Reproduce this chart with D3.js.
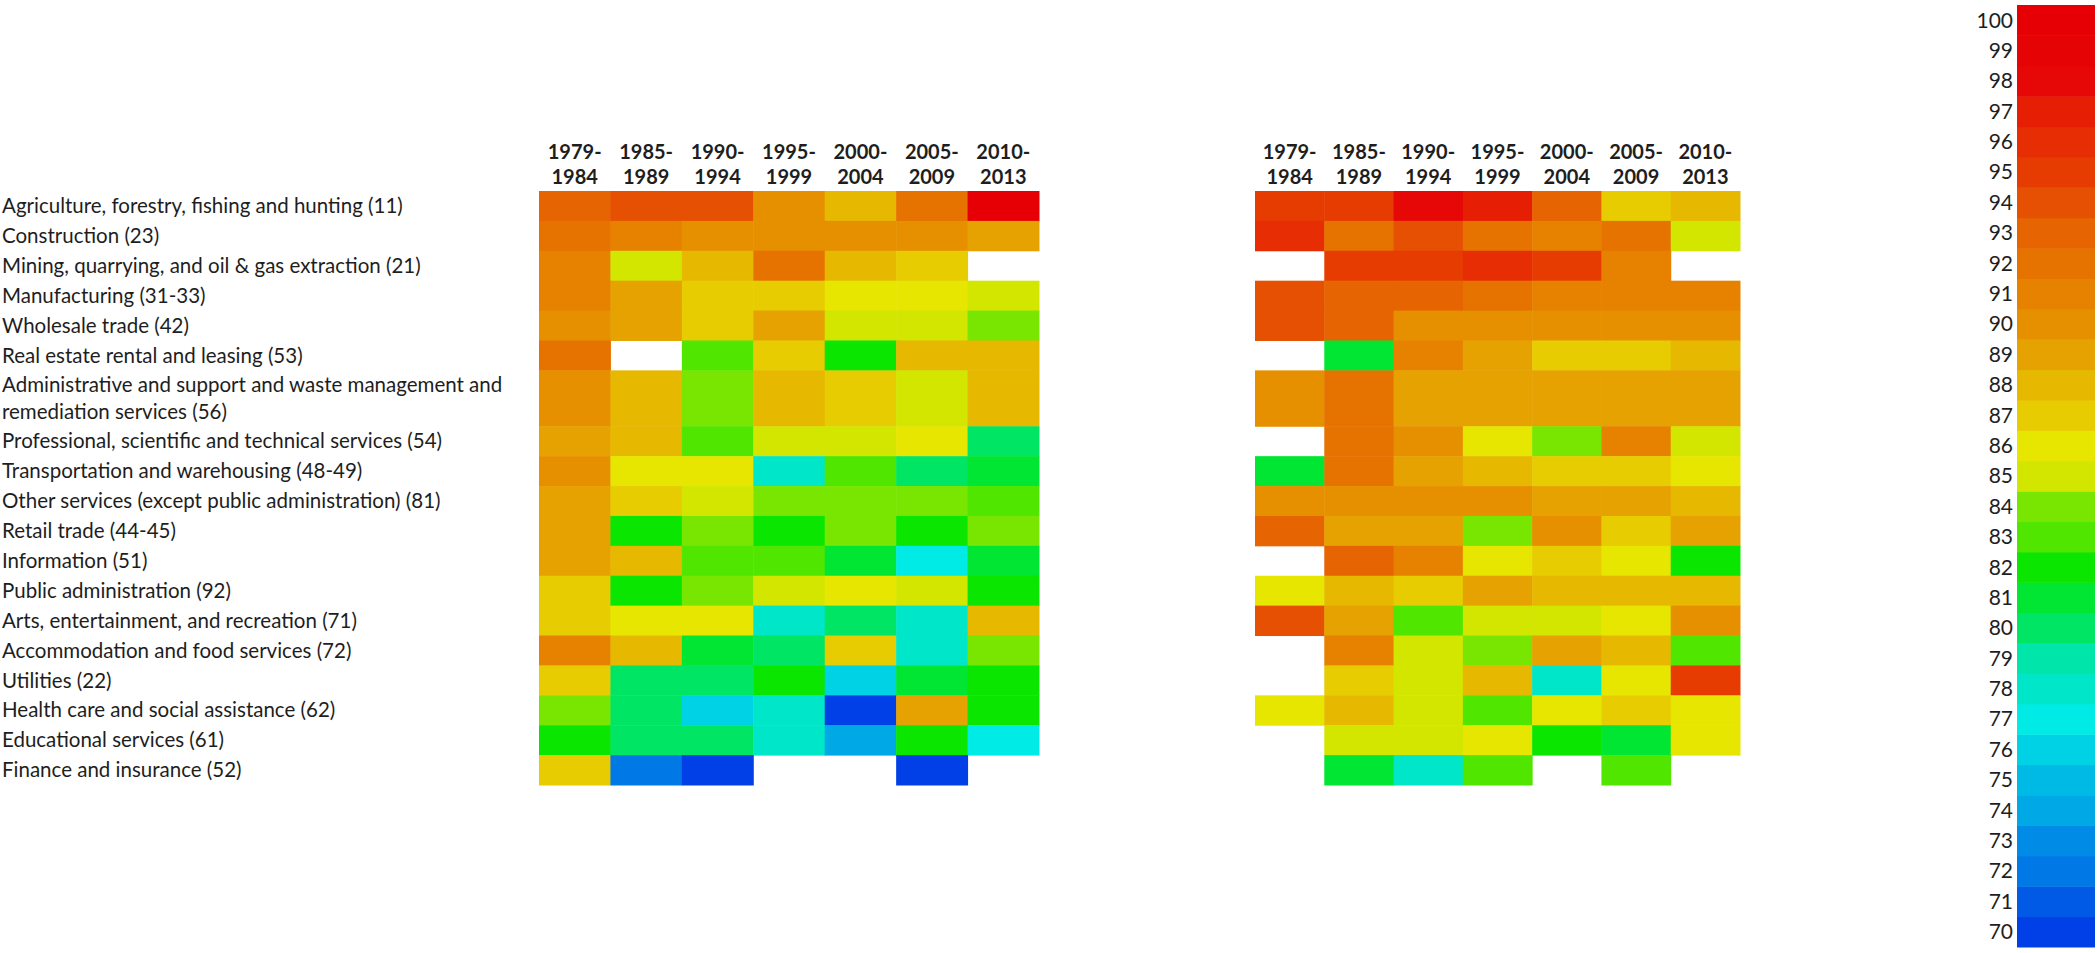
<!DOCTYPE html>
<html>
<head>
<meta charset="utf-8">
<script src="https://cdn.jsdelivr.net/npm/d3@7/dist/d3.min.js"></script>
<style>
  html, body { margin: 0; padding: 0; background: #fff; }
  svg { display: block; }
  text { font-family: Lato, "Open Sans", sans-serif; fill: #1e1e1e; }
</style>
</head>
<body>
<svg id="chart" width="2100" height="953"></svg>
<script>
// ---------------- DATA ----------------
const periods = ["1979-1984", "1985-1989", "1990-1994", "1995-1999", "2000-2004", "2005-2009", "2010-2013"];

const industries = [
  ["Agriculture, forestry, fishing and hunting (11)"],
  ["Construction (23)"],
  ["Mining, quarrying, and oil & gas extraction (21)"],
  ["Manufacturing (31-33)"],
  ["Wholesale trade (42)"],
  ["Real estate rental and leasing (53)"],
  ["Administrative and support and waste management and", "remediation services (56)"],
  ["Professional, scientific and technical services (54)"],
  ["Transportation and warehousing (48-49)"],
  ["Other services (except public administration) (81)"],
  ["Retail trade (44-45)"],
  ["Information (51)"],
  ["Public administration (92)"],
  ["Arts, entertainment, and recreation (71)"],
  ["Accommodation and food services (72)"],
  ["Utilities (22)"],
  ["Health care and social assistance (62)"],
  ["Educational services (61)"],
  ["Finance and insurance (52)"]
];

// left panel values (null = no data)
const leftValues = [
  [93, 94, 94, 90, 88, 92, 100],
  [92, 91, 90, 90, 90, 90, 89],
  [91, 85, 88, 92, 88, 87, null],
  [91, 89, 87, 87, 86, 86, 85],
  [90, 89, 87, 89, 85, 85, 84],
  [92, null, 83, 87, 82, 88, 88],
  [90, 88, 84, 88, 87, 85, 88],
  [89, 88, 83, 85, 85, 86, 80],
  [90, 86, 86, 78, 83, 80, 81],
  [89, 87, 85, 84, 84, 84, 83],
  [89, 82, 84, 82, 84, 82, 84],
  [89, 88, 83, 83, 81, 77, 81],
  [87, 82, 84, 85, 86, 85, 82],
  [87, 86, 86, 78, 80, 78, 88],
  [91, 88, 81, 80, 87, 78, 84],
  [87, 80, 80, 82, 76, 81, 82],
  [84, 80, 76, 78, 70, 89, 82],
  [82, 80, 80, 78, 74, 82, 77],
  [87, 72, 70, null, null, 70, null]
];

// right panel values (null = no data)
const rightValues = [
  [95, 95, 98, 97, 93, 87, 88],
  [96, 92, 94, 92, 91, 92, 85],
  [null, 95, 95, 96, 95, 91, null],
  [94, 93, 93, 92, 91, 91, 91],
  [94, 93, 90, 90, 90, 90, 90],
  [null, 81, 91, 89, 87, 87, 88],
  [90, 92, 89, 89, 89, 89, 89],
  [null, 92, 90, 86, 84, 91, 85],
  [81, 92, 89, 88, 87, 87, 86],
  [90, 90, 90, 90, 89, 89, 88],
  [93, 89, 89, 84, 90, 87, 89],
  [null, 93, 91, 86, 87, 86, 82],
  [86, 88, 87, 89, 88, 88, 88],
  [94, 89, 83, 85, 85, 86, 90],
  [null, 91, 85, 84, 89, 88, 83],
  [null, 87, 85, 88, 78, 86, 95],
  [86, 88, 85, 83, 86, 87, 86],
  [null, 85, 85, 86, 82, 81, 86],
  [null, 81, 78, 83, null, 83, null]
];

// colour-bar ticks (70 .. 100)
const legendTicks = d3.range(70, 101);

// band colours, from 70 up to 100
const bandColors = [
  "#0040e6", "#005ae6", "#0078e6", "#008ce6", "#00a8e6", "#00bae6", "#00d2e6", "#00ebe6",
  "#00e6c8", "#00e6aa", "#00e664", "#00e632", "#0ae600", "#50e600", "#78e600", "#d2e600",
  "#e6e600", "#e6cc00", "#e6b800", "#e6a200", "#e69000", "#e68200", "#e67200", "#e66401",
  "#e65002", "#e63c02", "#e62d03", "#e61e04", "#e60806", "#e60306", "#e60005"
];

// ---------------- CHART ----------------
const svg = d3.select("#chart");
const color = d3.scaleQuantize().domain([69.5, 100.5]).range(bandColors);

// row geometry: a two-line label row is taller
const rowUnits = industries.map(l => l.length === 1 ? 1 : 1.87);
const rowStart = [];
rowUnits.reduce((acc, u, i) => { rowStart[i] = acc; return acc + u; }, 0);
const totalUnits = d3.sum(rowUnits);
const y = d3.scaleLinear().domain([0, totalUnits]).range([191, 785]);

const panels = [
  { values: leftValues, range: [539, 1039] },
  { values: rightValues, range: [1255, 1740] }
];

panels.forEach(p => {
  const x = d3.scaleBand().domain(periods).range(p.range).padding(0);
  const g = svg.append("g");

  const cells = [];
  p.values.forEach((row, ri) => row.forEach((v, ci) => {
    if (v !== null) cells.push({ ri, ci, v });
  }));

  g.selectAll("rect.cell").data(cells).join("rect")
    .attr("class", "cell")
    .attr("x", d => x(periods[d.ci]))
    .attr("y", d => y(rowStart[d.ri]))
    .attr("width", x.bandwidth() + 0.5)
    .attr("height", d => y(rowStart[d.ri] + rowUnits[d.ri]) - y(rowStart[d.ri]) + 0.5)
    .attr("fill", d => color(d.v));

  // column headers
  const hdr = g.selectAll("text.hdr").data(periods).join("text")
    .attr("class", "hdr")
    .attr("text-anchor", "middle")
    .attr("font-weight", "bold")
    .attr("font-size", 20)
    .attr("x", d => x(d) + x.bandwidth() / 2);
  hdr.append("tspan").attr("y", 152).attr("dy", "0.35em").text(d => d.split("-")[0] + "-");
  hdr.append("tspan").attr("x", d => x(d) + x.bandwidth() / 2).attr("y", 177).attr("dy", "0.35em").text(d => d.split("-")[1]);
});

// row labels
const labels = svg.append("g").selectAll("text.lab").data(industries).join("text")
  .attr("class", "lab")
  .attr("font-size", 20.5)
  .attr("x", 2);
labels.each(function(lines, i) {
  const mid = (y(rowStart[i]) + y(rowStart[i] + rowUnits[i])) / 2;
  const gap = 27;
  const t = d3.select(this);
  lines.forEach((line, k) => {
    t.append("tspan")
      .attr("x", 2)
      .attr("y", mid + (k - (lines.length - 1) / 2) * gap)
      .attr("dy", "0.35em")
      .text(line);
  });
});

// colour bar
const yl = d3.scaleBand().domain(legendTicks.slice().reverse()).range([5, 947]).padding(0);
const leg = svg.append("g");
leg.selectAll("rect").data(legendTicks).join("rect")
  .attr("x", 2017)
  .attr("y", d => yl(d))
  .attr("width", 78)
  .attr("height", yl.bandwidth() + 0.5)
  .attr("fill", d => color(d));
leg.selectAll("text").data(legendTicks).join("text")
  .attr("x", 2013)
  .attr("y", d => yl(d) + yl.bandwidth() / 2)
  .attr("dy", "0.35em")
  .attr("text-anchor", "end")
  .attr("font-size", 21)
  .text(d => d);
</script>
</body>
</html>
